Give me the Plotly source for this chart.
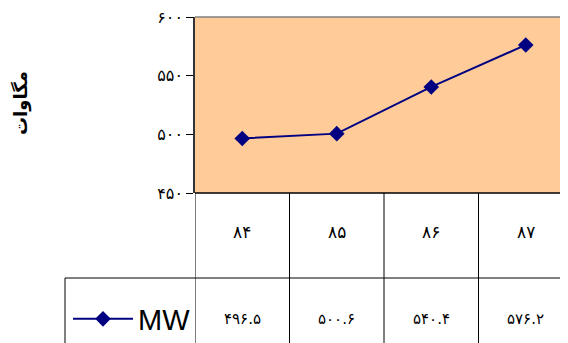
import plotly.graph_objects as go

# data (years in Persian calendar)
years = ["۸۴", "۸۵", "۸۶", "۸۷"]
mw = [496.5, 500.6, 540.4, 576.2]
y_ticks = [450, 500, 550, 600]
series_name = "MW"
y_title = "مگاوات"

# the page body adds an 8px margin, so the figure is shrunk by that much
OFF = 8
W, H = 568 - OFF, 343 - OFF
FA = str.maketrans("0123456789", "۰۱۲۳۴۵۶۷۸۹")

def fa(v):
    return str(v).translate(FA)

# window pixel -> paper fraction
def px(x):
    return (x - OFF) / W

def py(y):
    return 1 - (y - OFF) / H

plot_left, plot_top, plot_bottom = 195, 17, 193
row_line = 278

fig = go.Figure()
fig.add_trace(go.Scatter(x=years, y=mw, mode="lines+markers", name=series_name,
                         line=dict(color="#000080", width=2),
                         marker=dict(symbol="diamond", size=12, color="#000080")))

fig.update_layout(
    width=W, height=H,
    margin=dict(l=0, r=0, t=0, b=0, autoexpand=False),
    paper_bgcolor="white",
    plot_bgcolor="#FFCC99",
    font=dict(family="DejaVu Sans", color="black"),
    showlegend=True,
    legend=dict(x=px(68), y=py(319), xanchor="left", yanchor="middle",
                bgcolor="rgba(0,0,0,0)", itemwidth=60,
                font=dict(family="Liberation Sans", size=29, color="black")),
)
fig.update_xaxes(domain=[px(plot_left), 1], type="category", automargin=False,
                 range=[-0.5, 3.5 - 5 / 94.5], showticklabels=False,
                 showgrid=False, zeroline=False, showline=False)
fig.update_yaxes(domain=[py(plot_bottom), py(plot_top)], range=[450, 600],
                 automargin=False, ticklabeloverflow="allow",
                 tickvals=y_ticks, ticktext=[fa(t) for t in y_ticks],
                 ticks="outside", ticklen=7, tickcolor="black",
                 tickfont=dict(size=16, family="DejaVu Sans"),
                 showgrid=False, zeroline=False,
                 showline=True, linecolor="#333333", linewidth=1.5)

# plot frame: grey top edge, black bottom edge
fig.add_shape(type="line", xref="paper", yref="paper", x0=px(plot_left), x1=1,
              y0=py(plot_top), y1=py(plot_top), line=dict(color="#808080", width=1.5))
fig.add_shape(type="line", xref="paper", yref="paper", x0=px(plot_left), x1=1,
              y0=py(plot_bottom), y1=py(plot_bottom), line=dict(color="black", width=1.5))

# data table below the chart
for i in range(len(years)):
    fig.add_shape(type="line", xref="x", yref="paper", x0=i - 0.5, x1=i - 0.5,
                  y0=0, y1=py(plot_bottom), line=dict(color="black", width=1))
    fig.add_annotation(x=years[i], y=py(232), xref="x", yref="paper",
                       xanchor="center", yanchor="middle",
                       text=years[i], showarrow=False,
                       font=dict(size=17, family="DejaVu Sans"))
    fig.add_annotation(x=years[i], y=py(319), xref="x", yref="paper",
                       xanchor="center", yanchor="middle",
                       text=fa(mw[i]), showarrow=False,
                       font=dict(size=15, family="DejaVu Sans"))
fig.add_shape(type="line", xref="paper", yref="paper", x0=px(65), x1=1,
              y0=py(row_line), y1=py(row_line), line=dict(color="black", width=1))
fig.add_shape(type="line", xref="paper", yref="paper", x0=px(65), x1=px(65),
              y0=0, y1=py(row_line), line=dict(color="black", width=1))

fig.add_annotation(x=px(21), y=py(103), xref="paper", yref="paper",
                   xanchor="center", yanchor="middle",
                   text="<b>" + y_title + "</b>", textangle=-90, showarrow=False,
                   font=dict(size=18, family="DejaVu Sans"))

fig.write_html("out.html")
